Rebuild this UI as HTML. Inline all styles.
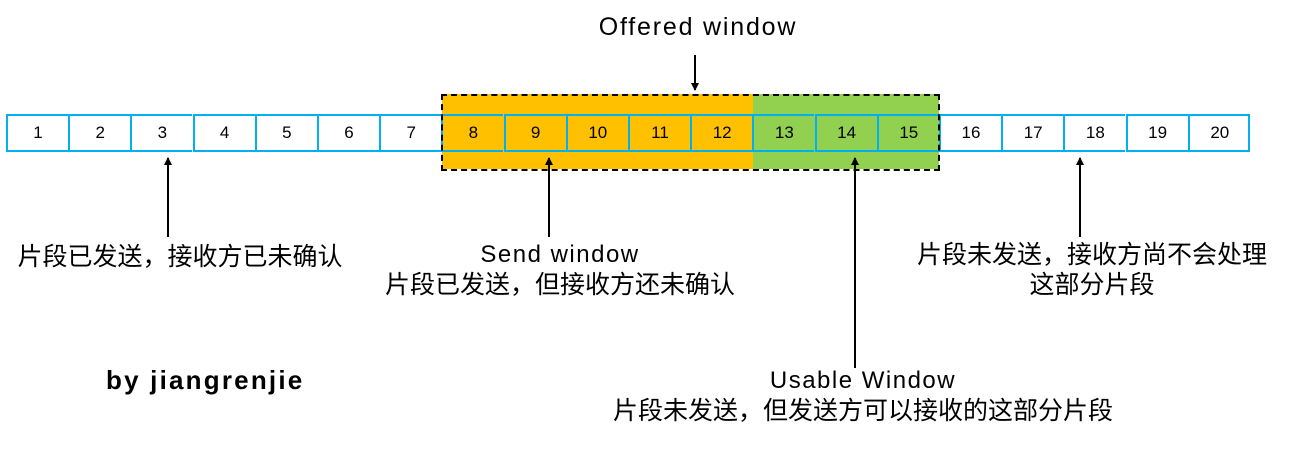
<!DOCTYPE html>
<html><head><meta charset="utf-8"><style>
body{margin:0;width:1302px;height:469px;background:#fff;position:relative;overflow:hidden;font-family:"Liberation Sans","Noto Sans CJK SC",sans-serif;color:#000}
.c{position:absolute;top:114px;height:34px;width:60px;border:2px solid #00b0f0;border-right:none;display:flex;align-items:center;justify-content:center;font-size:17px}
.t{position:absolute;text-align:center;font-size:24px;line-height:30px;white-space:nowrap}
.z{font-size:24px;letter-spacing:0px}
.l{font-size:24px;letter-spacing:1.5px}
</style></head><body>
<div style="position:absolute;left:442px;top:94px;width:311px;height:75px;background:#ffc000"></div>
<div style="position:absolute;left:753px;top:94px;width:186px;height:75px;background:#92d050"></div>
<div id="cells"></div>
<div style="position:absolute;left:1248px;top:114px;width:2px;height:36px;background:#00b0f0"></div>
<div style="position:absolute;left:441px;top:94px;width:495px;height:73px;border:2px dashed #000"></div>
<svg style="position:absolute;left:0;top:0" width="1302" height="469">
<defs><marker id="a" markerWidth="8" markerHeight="8" refX="7" refY="4" orient="auto" markerUnits="userSpaceOnUse"><path d="M0,0L8,4L0,8z" fill="#000"/></marker></defs>
<g stroke="#000" stroke-width="2" marker-end="url(#a)">
<line x1="168" y1="237" x2="168" y2="158"/>
<line x1="549" y1="237" x2="549" y2="158"/>
<line x1="855" y1="368" x2="855" y2="158"/>
<line x1="1080" y1="237" x2="1080" y2="158"/>
<line x1="695" y1="55" x2="695" y2="90"/>
</g></svg>
<div class="t" style="left:498px;top:12px;width:400px;font-size:25px;letter-spacing:1.8px">Offered window</div>
<div class="t z" style="left:-10px;top:242px;width:380px;font-size:25px">片段已发送，接收方已未确认</div>
<div class="t" style="left:360px;top:240px;width:400px"><span class="l">Send window</span><br><span style="font-size:25px">片段已发送，但接收方还未确认</span></div>
<div class="t" style="left:902px;top:240px;width:380px;font-size:25px">片段未发送，接收方尚不会处理<br>这部分片段</div>
<div class="t" style="left:563px;top:366px;width:600px"><span class="l">Usable Window</span><br><span style="font-size:25px">片段未发送，但发送方可以接收的这部分片段</span></div>
<div class="t" style="left:106px;top:365px;font-size:26px;font-weight:bold;text-align:left;letter-spacing:2.2px">by jiangrenjie</div>
<script>
var h='';for(var i=0;i<20;i++){var l=6+i*62.2;h+='<div class="c" style="left:'+l.toFixed(1)+'px">'+(i+1)+'</div>';}
document.getElementById('cells').innerHTML=h;
</script>
</body></html>
